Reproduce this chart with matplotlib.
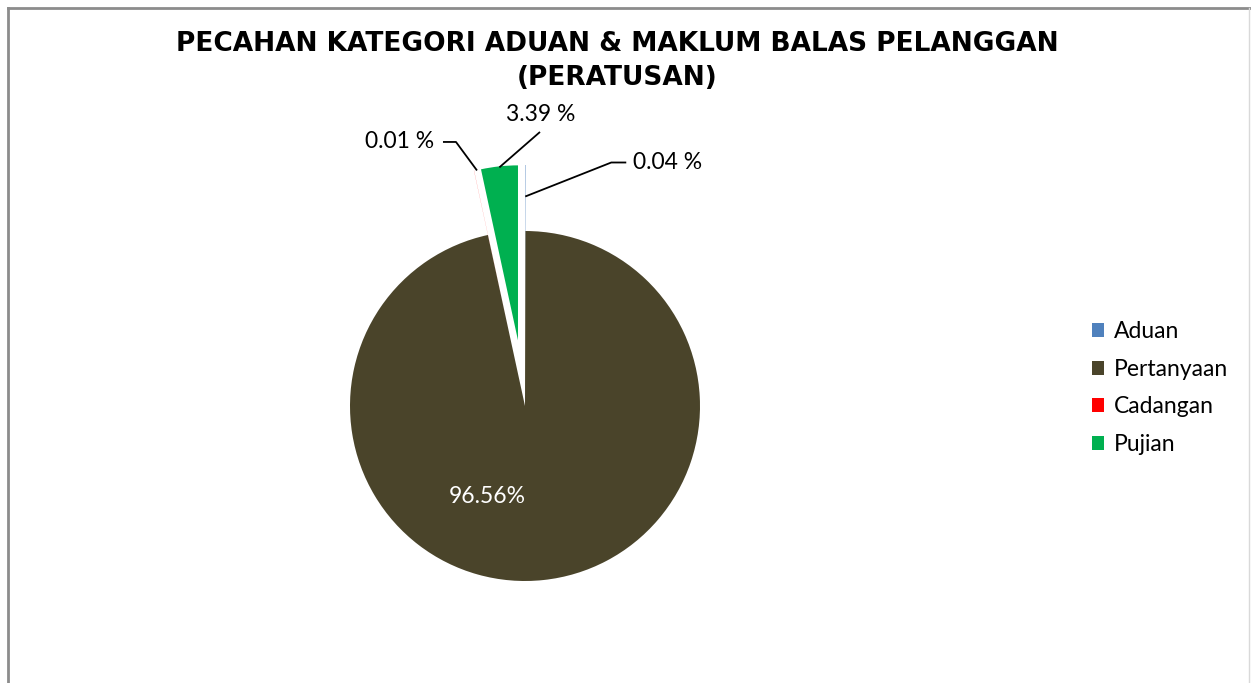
import math
import matplotlib.pyplot as plt
from matplotlib.lines import Line2D

# data
categories = ['Aduan', 'Pertanyaan', 'Cadangan', 'Pujian']
percentages = [0.04, 96.56, 0.01, 3.39]
pct_labels = ['0.04 %', '96.56%', '0.01 %', '3.39 %']
colors = ['#4F81BD', '#4A442A', '#FF0000', '#00B050']
title = "PECAHAN KATEGORI ADUAN & MAKLUM BALAS PELANGGAN\n(PERATUSAN)"

# params (pixel units, y up)
W, H = 1251, 683
CX, CY, R = 525, H - 406, 175
EXPLODE = [66, 0, 66, 66]
LABEL_FONT = 'Lato'
LABEL_SIZE = 16.5

fig = plt.figure(figsize=(W / 100, H / 100), dpi=100)
ax = fig.add_axes([0, 0, 1, 1])

wedges, _ = ax.pie(percentages, colors=colors, startangle=90, counterclock=False,
                   radius=R, center=(CX, CY), explode=EXPLODE,
                   wedgeprops=dict(linewidth=0))
ax.set_xlim(0, W)
ax.set_ylim(0, H)
ax.set_aspect('auto')
ax.axis('off')


def anchor(w, frac=1.0):
    ang = math.radians((w.theta1 + w.theta2) / 2)
    cx, cy = w.center
    return cx + w.r * frac * math.cos(ang), cy + w.r * frac * math.sin(ang)


def leader(pts):
    xs, ys = zip(*pts)
    ax.plot(xs, ys, color='black', lw=1.3, solid_capstyle='butt')


# Aduan label (right)
ax0, ay0 = anchor(wedges[0], 0.82)
leader([(ax0, ay0), (ax0 + 86, ay0 + 34), (ax0 + 101, ay0 + 34)])
ax.text(ax0 + 108, ay0 + 34, pct_labels[0], ha='left', va='center',
        family=LABEL_FONT, fontsize=LABEL_SIZE)

# Cadangan label (left)
ax2, ay2 = anchor(wedges[2])
leader([(ax2 + 3, ay2), (ax2 - 18, ay2 + 28.5), (ax2 - 31, ay2 + 28.5)])
ax.text(ax2 - 40, ay2 + 28.5, pct_labels[2], ha='right', va='center',
        family=LABEL_FONT, fontsize=LABEL_SIZE)

# Pujian label (top)
ax3, ay3 = anchor(wedges[3])
leader([(ax3, ay3 - 1), (ax3 + 40.6, ay3 + 34.4)])
ax.text(ax3 + 41.6, ay3 + 52, pct_labels[3], ha='center', va='center',
        family=LABEL_FONT, fontsize=LABEL_SIZE)

# Pertanyaan label inside the slice
ang = math.radians(-112.7)
ax.text(CX + 0.563 * R * math.cos(ang), CY + 0.563 * R * math.sin(ang), pct_labels[1],
        ha='center', va='center', color='white', family=LABEL_FONT, fontsize=LABEL_SIZE)

# title
fig.text(617 / W, 1 - 61 / H, title, ha='center', va='center', fontsize=19,
         fontweight='bold', family='DejaVu Sans', linespacing=1.38)

# legend
fig.legend(wedges, categories, loc='center left', bbox_to_anchor=(1071 / W, 1 - 388 / H),
           frameon=False, prop=dict(family=LABEL_FONT, size=LABEL_SIZE),
           handlelength=0.55, handleheight=0.55, handletextpad=0.42, labelspacing=0.72)

# chart border
fig.add_artist(Line2D([8, 8], [0, H - 8], transform=None, color='#8c8c8c', lw=2))
fig.add_artist(Line2D([8, W], [H - 8, H - 8], transform=None, color='#8c8c8c', lw=2))
fig.add_artist(Line2D([W - 2, W - 2], [0, H - 8], transform=None, color='#d9d9d9', lw=1))

fig.savefig('out.png', dpi=100)
